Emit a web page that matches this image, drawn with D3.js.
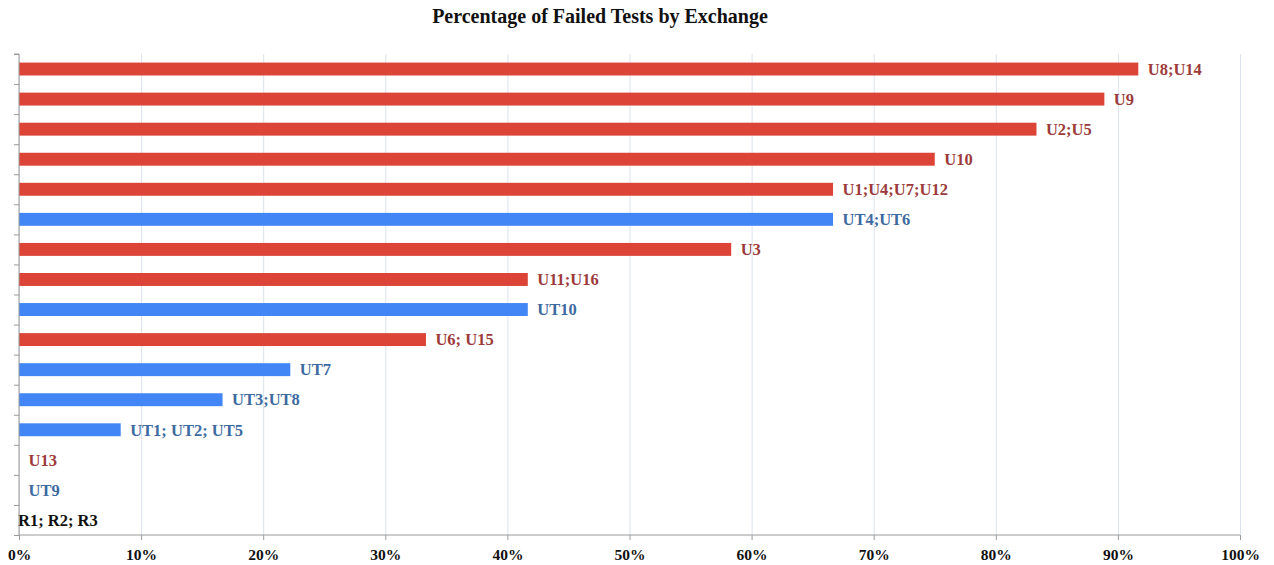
<!DOCTYPE html>
<head>
    <title>Percentage of Failed Tests by Exchange</title>
    <script src="https://cdn.jsdelivr.net/npm/d3@7"></script>
    <style>
      body { margin: 0; background: #fff; }
      text { font-family: "Liberation Serif", "Times New Roman", serif; font-weight: bold; }
    </style>
</head>
<body>
<div id="container"></div>
<script>

// Données (de haut en bas)
const categories = ["U8;U14", "U9", "U2;U5", "U10", "U1;U4;U7;U12", "UT4;UT6", "U3",
  "U11;U16", "UT10", "U6; U15", "UT7", "UT3;UT8", "UT1; UT2; UT5", "U13", "UT9", "R1; R2; R3"];
const values = [0.9167, 0.8889, 0.8333, 0.75, 0.6667, 0.6667, 0.5833,
  0.4167, 0.4167, 0.3333, 0.2222, 0.1667, 0.0833, 0, 0, 0];
const groups = ["U", "U", "U", "U", "U", "UT", "U", "U", "UT", "U", "UT", "UT", "UT", "U", "UT", "R"];
const xTicks = [0, 0.1, 0.2, 0.3, 0.4, 0.5, 0.6, 0.7, 0.8, 0.9, 1];

const data = categories.map((c, i) => ({ cat: c, value: values[i], group: groups[i] }));

// Dimensions
const width = 1274, height = 565;
const plotLeft = 19, plotRight = 1240, plotTop = 54, plotBottom = 535;

const svg = d3.select("#container")
  .append("svg")
  .attr("width", width)
  .attr("height", height);

// Échelles
const x = d3.scaleLinear().domain([0, 1]).range([plotLeft, plotRight]);
const y = d3.scaleBand()
  .domain(categories)
  .range([plotTop, plotBottom])
  .paddingInner(0.57)
  .paddingOuter(0.285);

const barColors = { U: "#db4437", UT: "#4285f4", R: "#666" };
const labelColors = { U: "#9c3b3a", UT: "#3d6aa0", R: "#111" };

// Grille verticale
svg.append("g")
  .attr("transform", `translate(0,${plotBottom})`)
  .call(d3.axisBottom(x).tickValues(xTicks).tickSize(-(plotBottom - plotTop)).tickFormat(""))
  .call(g => g.select(".domain").remove())
  .call(g => g.selectAll("line").attr("stroke", "#dbe2ee"));

// Barres
svg.selectAll(".bar")
  .data(data)
  .enter().append("rect")
  .attr("class", "bar")
  .attr("x", x(0))
  .attr("y", d => y(d.cat))
  .attr("width", d => x(d.value) - x(0))
  .attr("height", y.bandwidth())
  .attr("fill", d => barColors[d.group]);

// Étiquettes
svg.selectAll(".lbl")
  .data(data)
  .enter().append("text")
  .attr("class", "lbl")
  .attr("x", d => d.group === "R" ? x(d.value) - 1 : x(d.value) + 9.5)
  .attr("y", d => y(d.cat) + y.bandwidth() / 2)
  .attr("dy", "0.35em")
  .attr("font-size", 16.5)
  .attr("fill", d => labelColors[d.group])
  .text(d => d.cat);

// Axe Y (graduations entre les catégories)
const yTicks = d3.scaleLinear().domain([0, categories.length]).range([plotTop, plotBottom]);
svg.append("g")
  .attr("transform", `translate(${plotLeft},0)`)
  .call(d3.axisLeft(yTicks).ticks(categories.length).tickSize(5).tickFormat(""))
  .call(g => g.select(".domain").attr("stroke", "#9a9a9a").attr("d", `M-5,${plotTop}H0V${plotBottom}`))
  .call(g => g.selectAll("line").attr("stroke", "#9a9a9a"));

// Axe X
svg.append("g")
  .attr("transform", `translate(0,${plotBottom})`)
  .call(d3.axisBottom(x).tickValues(xTicks).tickSize(5).tickPadding(9).tickFormat(d3.format(".0%")))
  .call(g => g.select(".domain").attr("stroke", "#9a9a9a").attr("d", `M${plotLeft},0H${plotRight}`))
  .call(g => g.selectAll("line").attr("stroke", "#9a9a9a"))
  .call(g => g.selectAll("text").attr("font-size", 15.5).attr("fill", "#111")
    .style("font-family", "'Liberation Serif', serif").style("font-weight", "bold"));

// Titre
svg.append("text")
  .attr("x", 600)
  .attr("y", 23)
  .attr("text-anchor", "middle")
  .attr("font-size", 20)
  .attr("fill", "#111")
  .text("Percentage of Failed Tests by Exchange");

</script>
</body>
